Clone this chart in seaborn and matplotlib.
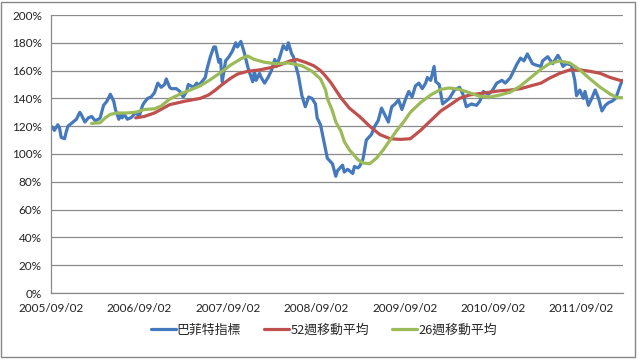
import numpy as np
import pandas as pd
import matplotlib
matplotlib.use("Agg")
import matplotlib.pyplot as plt
from matplotlib.patches import Rectangle
from matplotlib.ticker import FuncFormatter
import seaborn as sns

START = pd.Timestamp("2005-09-02")

# Buffett indicator (weeks since 2005/09/02, percent)
buffett_weeks = [0, 1, 2, 4, 5, 6, 8, 9, 10, 12, 15, 17, 18, 20, 22, 24, 26, 28, 29, 31,
                 33, 35, 37, 38, 40, 41, 42, 43, 45, 47, 48, 50, 52, 54, 55, 57, 59, 61, 63, 65,
                 67, 68, 70, 71, 74, 76, 78, 80, 81, 84, 86, 87, 89, 91, 92, 94, 96, 97, 99, 100,
                 101, 103, 105, 107, 109, 110, 112, 114, 116, 117, 119, 120, 121, 123, 124, 126, 128, 130, 132, 133,
                 135, 137, 139, 140, 142, 143, 146, 148, 150, 152, 154, 156, 157, 159, 160, 162, 163, 166, 168, 169,
                 172, 173, 175, 178, 179, 181, 182, 184, 186, 189, 191, 193, 195, 197, 199, 201, 203, 205, 207, 209,
                 211, 213, 215, 217, 219, 221, 222, 224, 226, 227, 229, 231, 232, 235, 238, 241, 243, 245, 248, 251,
                 253, 255, 258, 260, 263, 266, 268, 271, 273, 275, 277, 279, 281, 284, 286, 289, 290, 293, 296, 299,
                 300, 302, 304, 307, 309, 310, 312, 314, 315, 317, 319, 321, 323, 325, 327, 329, 331, 333, 334, 336,
                 337]
buffett_values = [120, 119, 117, 121, 119, 112, 111, 116, 120, 122, 125, 130, 128, 123, 126, 127, 124, 125, 126, 135,
                  138, 143, 138, 132, 125, 128, 126, 129, 125, 126, 127, 130, 127, 135, 137, 140, 141, 144, 151, 148,
                  150, 154, 148, 147, 147, 145, 141, 145, 150, 148, 151, 149, 152, 155, 161, 170, 177, 177, 166, 168,
                  152, 167, 170, 174, 180, 177, 181, 173, 163, 159, 152, 160, 153, 158, 155, 151, 155, 160, 168, 163,
                  170, 178, 175, 180, 172, 170, 156, 142, 134, 141, 140, 136, 126, 121, 115, 103, 97, 93, 84, 88,
                  92, 87, 89, 86, 91, 90, 91, 96, 110, 114, 120, 124, 133, 128, 123, 134, 136, 139, 132, 139,
                  145, 141, 149, 151, 147, 151, 155, 153, 163, 152, 150, 136, 137, 140, 146, 148, 143, 134, 136, 135,
                  138, 145, 143, 145, 151, 153, 151, 155, 160, 165, 169, 167, 172, 165, 164, 163, 167, 170, 165, 171,
                  169, 163, 165, 164, 153, 142, 146, 140, 145, 135, 140, 146, 140, 131, 135, 137, 138, 140, 143, 150,
                  153]

# 52-week moving average
ma52_weeks = [50, 55, 61, 70, 79, 88, 93, 97, 101, 106, 110, 116, 123, 129, 135, 141, 145, 150, 155, 159,
              162, 165, 171, 176, 182, 188, 194, 200, 206, 212, 218, 224, 230, 235, 241, 247, 253, 259, 265, 271,
              277, 283, 289, 294, 300, 306, 312, 318, 324, 330, 337]
ma52_values = [126, 127, 129.5, 135.5, 138, 140, 142.5, 146, 150, 154.5, 157.5, 159.5, 160.5, 162, 164, 167, 168, 166, 163.5, 160,
               156, 151.5, 140.5, 133, 127, 120, 114, 111, 110.5, 111, 117, 124, 131, 135, 140, 142.5, 143.5, 144.5, 145.5, 146,
               147, 149, 151, 154.5, 158, 160.5, 160.5, 159.5, 158, 155, 152.5]

# 26-week moving average
ma26_weeks = [24, 29, 32, 35, 39, 44, 50, 55, 61, 65, 70, 76, 82, 88, 94, 100, 106, 112, 116, 120,
              126, 132, 140, 148, 154, 159, 162, 163, 166, 168, 171, 173, 176, 181, 184, 188, 192, 196, 200, 204,
              208, 212, 218, 224, 230, 235, 241, 247, 253, 259, 265, 271, 277, 283, 289, 294, 300, 306, 312, 318,
              324, 330, 334, 337]
ma26_values = [122, 122.5, 126, 128.5, 129.5, 129.5, 130, 132, 132.5, 134.5, 139.5, 143, 146, 149, 153.5, 158.5, 164, 168.5, 170.5, 168,
               166, 165, 165.5, 163.5, 159.5, 154, 146, 140, 131, 123, 116.5, 109, 103, 96, 93.5, 93, 97, 103, 110, 117,
               123, 130, 137, 142.5, 146.5, 147.5, 146.5, 144, 141.5, 141, 142.5, 144.5, 149, 155, 161, 165, 167, 165.5, 160.5, 154,
               148, 143, 140.5, 140.5]

series_names = ["巴菲特指標", "52週移動平均", "26週移動平均"]
series_colors = ["#4479bd", "#c0504d", "#9bbb59"]
tick_dates = ["2005/09/02", "2006/09/02", "2007/09/02", "2008/09/02", "2009/09/02", "2010/09/02", "2011/09/02"]
y_ticks = [0, 20, 40, 60, 80, 100, 120, 140, 160, 180, 200]


def to_dates(weeks):
    return START + pd.to_timedelta(np.array(weeks) * 7, unit="D")


frames = []
for name, w, v in zip(series_names,
                      [buffett_weeks, ma52_weeks, ma26_weeks],
                      [buffett_values, ma52_values, ma26_values]):
    frames.append(pd.DataFrame({"date": to_dates(w), "value": v, "series": name}))
df = pd.concat(frames, ignore_index=True)

sns.set_style("white")
plt.rcParams["font.family"] = ["Lato", "DejaVu Sans"]

fig = plt.figure(figsize=(6.4, 3.6), dpi=100)
ax = fig.add_axes([51 / 640, 1 - 293 / 360, (623 - 51) / 640, (293 - 15) / 360])

sns.lineplot(data=df, x="date", y="value", hue="series", hue_order=series_names,
             palette=series_colors, linewidth=2.3, ax=ax, legend=False, sort=True)

grid_c = "#8a8a8a"
ax.set_ylim(0, 200)
ax.set_yticks(y_ticks)
ax.yaxis.set_major_formatter(FuncFormatter(lambda v, p: f"{int(v)}%"))
ax.set_xlim(START, START + pd.Timedelta(days=2362))
ax.set_xticks(pd.to_datetime(tick_dates, format="%Y/%m/%d"))
ax.set_xticklabels(tick_dates)
ax.set_xlabel("")
ax.set_ylabel("")
ax.grid(axis="y", color=grid_c, linewidth=0.9)
ax.grid(axis="x", visible=False)
ax.set_axisbelow(True)
for s in ["top", "right"]:
    ax.spines[s].set_visible(False)
for s in ["left", "bottom"]:
    ax.spines[s].set_color(grid_c)
    ax.spines[s].set_linewidth(0.9)
ax.tick_params(axis="both", which="major", direction="out", length=3.5, width=0.9,
               color=grid_c, labelsize=8.5, labelcolor="#222222", pad=3)
ax.tick_params(axis="x", pad=4)

handles = [plt.Line2D([], [], color=c, linewidth=2.3) for c in series_colors]
fig.legend(handles, series_names, loc="center", bbox_to_anchor=(0.506, 0.083), ncol=3,
           frameon=False, handlelength=1.9, handletextpad=0.1, columnspacing=1.8,
           prop={"family": ["Noto Sans CJK TC", "DejaVu Sans"], "size": 9.3})

fig.patches.append(Rectangle((1 / 640, 3 / 360), 634 / 640, 355 / 360, transform=fig.transFigure,
                             fill=False, edgecolor="#868686", linewidth=1.0))

fig.savefig("out.png", dpi=100)
